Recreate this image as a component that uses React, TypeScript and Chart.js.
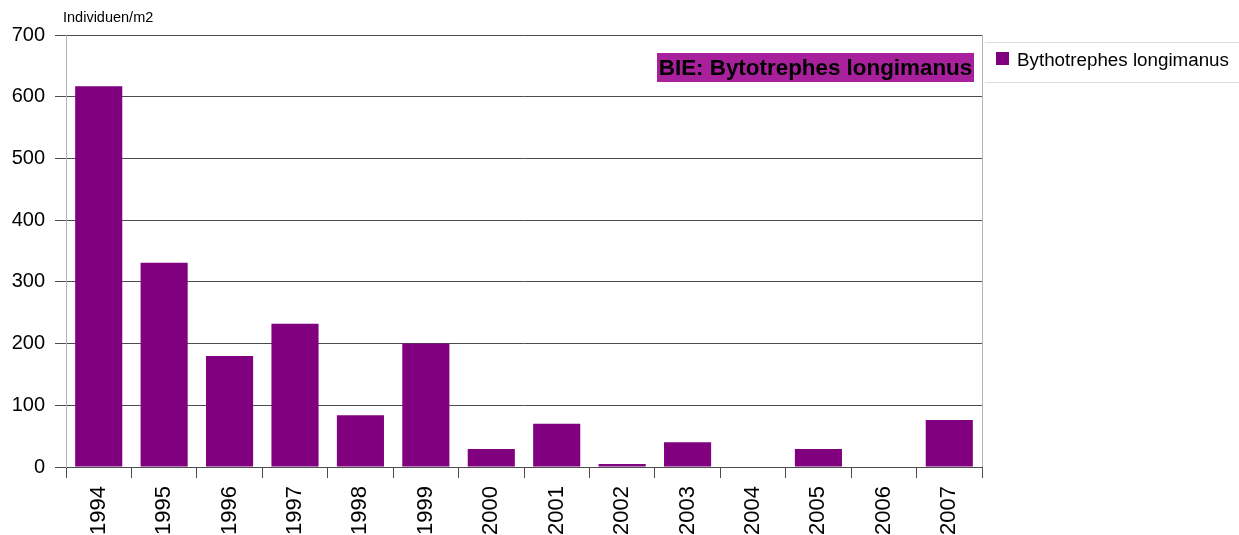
import React, { useEffect, useRef } from "react";
import { Chart, registerables } from "chart.js";

Chart.register(...registerables);

const years = ["1994", "1995", "1996", "1997", "1998", "1999", "2000", "2001", "2002", "2003", "2004", "2005", "2006", "2007"];
const values = [617, 331, 180, 232, 84, 200, 29, 70, 5, 40, 0, 29, 0, 76];
const seriesLabel = "Bythotrephes longimanus";
const chartTitle = "BIE: Bytotrephes longimanus";
const yAxisTitle = "Individuen/m2";
const yTicks = [0, 100, 200, 300, 400, 500, 600, 700];

const FONT = '"Liberation Sans", Arial, sans-serif';

const decorPlugin = {
  id: "decor",
  afterDraw(chart: any) {
    const ctx = chart.ctx;
    const a = chart.chartArea;
    ctx.save();
    // right plot border
    ctx.strokeStyle = "#b3b3b3";
    ctx.lineWidth = 1;
    ctx.beginPath();
    ctx.moveTo(Math.round(a.right) + 0.5, a.top);
    ctx.lineTo(Math.round(a.right) + 0.5, a.bottom);
    ctx.stroke();

    // y axis title
    ctx.fillStyle = "#000";
    ctx.font = `14.5px ${FONT}`;
    ctx.textAlign = "left";
    ctx.textBaseline = "middle";
    ctx.fillText(yAxisTitle, 63, 18);

    // title box
    ctx.font = `bold 22.4px ${FONT}`;
    const bx = 657, by = 53, bw = 317, bh = 29;
    ctx.fillStyle = "#a8209c";
    ctx.fillRect(bx, by, bw, bh);
    ctx.fillStyle = "#000";
    ctx.textAlign = "center";
    ctx.textBaseline = "middle";
    ctx.fillText(chartTitle, bx + bw / 2, by + bh / 2 + 1);

    // legend
    ctx.strokeStyle = "#dcdcdc";
    ctx.beginPath();
    ctx.moveTo(985, 42.5);
    ctx.lineTo(1239, 42.5);
    ctx.moveTo(985, 82.5);
    ctx.lineTo(1239, 82.5);
    ctx.stroke();
    ctx.fillStyle = "#800080";
    ctx.fillRect(996, 52, 13, 13);
    ctx.fillStyle = "#000";
    ctx.font = `18.8px ${FONT}`;
    ctx.textAlign = "left";
    ctx.textBaseline = "middle";
    ctx.fillText(chart.data.datasets[0].label, 1017, 61);
    ctx.restore();
  },
};

export default function App() {
  const ref = useRef<HTMLCanvasElement>(null);
  useEffect(() => {
    if (!ref.current) return;
    const chart = new Chart(ref.current, {
      type: "bar",
      data: {
        labels: years,
        datasets: [
          {
            label: seriesLabel,
            data: values,
            backgroundColor: "#800080",
            borderWidth: 0,
            barPercentage: 0.9,
            categoryPercentage: 0.8,
          },
        ],
      },
      options: {
        animation: false,
        responsive: false,
        maintainAspectRatio: false,
        layout: { padding: { top: 35, right: 257, left: 0, bottom: 0 } },
        plugins: {
          legend: { display: false },
          tooltip: { enabled: false },
          title: { display: false },
        },
        scales: {
          x: {
            offset: true,
            grid: {
              display: true,
              offset: true,
              drawOnChartArea: false,
              drawTicks: true,
              tickLength: 11,
              color: "#4d4d4d",
              tickColor: "#4d4d4d",
            },
            border: { display: true, color: "#4d4d4d" },
            ticks: {
              color: "#000",
              font: { family: FONT, size: 22 },
              minRotation: 90,
              maxRotation: 90,
              padding: 8,
              autoSkip: false,
            },
            afterFit(scale: any) {
              scale.height = 68;
            },
          },
          y: {
            min: 0,
            max: 700,
            afterBuildTicks(scale: any) {
              scale.ticks = yTicks.map((v) => ({ value: v }));
            },
            grid: {
              color: "#4d4d4d",
              tickColor: "#4d4d4d",
              tickLength: 11,
              lineWidth: 1,
            },
            border: { display: true, color: "#b3b3b3" },
            ticks: {
              color: "#000",
              font: { family: FONT, size: 20 },
              padding: 10,
            },
            afterFit(scale: any) {
              scale.width = 66;
            },
          },
        },
      },
      plugins: [decorPlugin],
    });
    return () => chart.destroy();
  }, []);
  return (
    <div style={{ position: "fixed", left: 0, top: 0, width: 1239, height: 535, background: "#fff" }}>
      <canvas ref={ref} width={1239} height={535} style={{ width: 1239, height: 535, display: "block" }} />
    </div>
  );
}
